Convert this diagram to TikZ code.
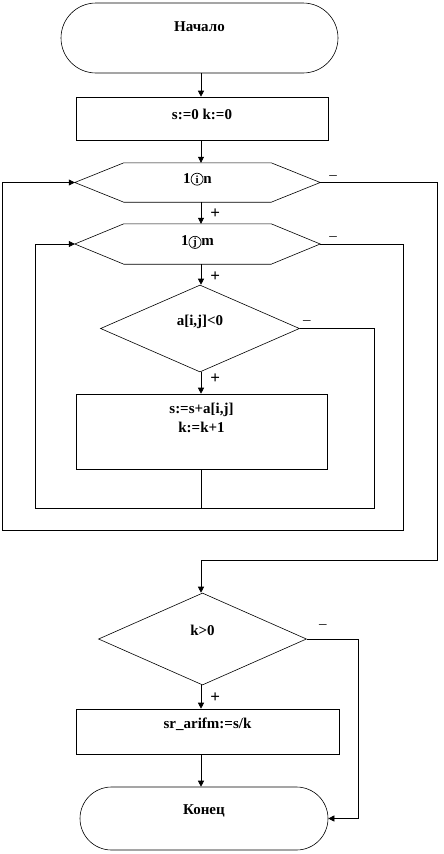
\documentclass[tikz,border=0pt]{standalone}
\usepackage{fontspec}
\setmainfont{Liberation Serif}
\usetikzlibrary{arrows.meta,shapes.geometric}
\newcommand\circlet[1]{\tikz[baseline=(cl.base)]\node[circle, draw, line width=0.7pt, inner sep=0.6pt, minimum size=12pt, font=\bfseries\fontsize{11}{12}\selectfont] (cl) {#1};}
\begin{document}
\begin{tikzpicture}[x=1pt,y=-1pt,
  shp/.style={draw, line width=0.6pt, inner sep=0pt},
  frame/.style={inner sep=0pt},
  outline/.style={line width=0.6pt},
  txt/.style={inner sep=0pt, font=\bfseries\fontsize{15}{18}\selectfont, text height=10pt, text depth=0pt},
  sgn/.style={inner sep=0pt, font=\bfseries\fontsize{17}{18}\selectfont},
  neg/.style={inner sep=0pt, font=\fontsize{15}{18}\selectfont},
  con/.style={line width=0.6pt},
  arr/.style={con, -{Triangle[length=6pt,width=6pt]}}]
\useasboundingbox (0,0) rectangle (444,854);
\fill[white] (0,0) rectangle (444,854);

% shapes
\node[shp, rounded corners=35pt, minimum width=277pt, minimum height=70pt] (start) at (199.5,38) {};
\node[txt] (tstart) at ([yshift=-24pt]start.north) {Начало};

\node[shp, minimum width=252pt, minimum height=43pt] (s1) at (202,118.5) {};
\node[txt] (ts1) at ([yshift=-18pt]s1.north) {s:=0 k:=0};

\node[frame, minimum width=245pt, minimum height=39pt] (h1) at (197.5,182.5) {};
\draw[outline] (h1.west) -- ([xshift=49pt]h1.north west) -- ([xshift=-49pt]h1.north east) -- (h1.east) -- ([xshift=-49pt]h1.south east) -- ([xshift=49pt]h1.south west) -- cycle;
\node[txt] (th1) at ([yshift=4.5pt]h1.center) {1\circlet{i}n};

\node[frame, minimum width=245pt, minimum height=40pt] (h2) at (197.5,244) {};
\draw[outline] (h2.west) -- ([xshift=49pt]h2.north west) -- ([xshift=-49pt]h2.north east) -- (h2.east) -- ([xshift=-49pt]h2.south east) -- ([xshift=49pt]h2.south west) -- cycle;
\node[txt] (th2) at ([yshift=4pt]h2.center) {1\circlet{j}m};

\node[shp, diamond, minimum width=199pt, minimum height=87pt] (d1) at (200,328.5) {};
\node[txt] (td1) at ([yshift=8.5pt]d1.center) {a[i,j]<0};

\node[shp, minimum width=251pt, minimum height=75pt] (b2) at (201.5,431.5) {};
\node[txt] (tb2a) at ([yshift=-15pt]b2.north) {s:=s+a[i,j]};
\node[txt] (tb2b) at ([yshift=-34pt]b2.north) {k:=k+1};

\node[shp, diamond, minimum width=208pt, minimum height=92pt] (d2) at (202.5,639) {};
\node[txt] (td2) at ([yshift=9pt]d2.center) {k>0};

\node[shp, minimum width=263pt, minimum height=45pt] (b3) at (207.5,731.5) {};
\node[txt] (tb3) at ([yshift=-15pt]b3.north) {sr\_arifm:=s/k};

\node[shp, rounded corners=31.5pt, minimum width=248pt, minimum height=63pt] (end) at (204,818.5) {};
\node[txt] (tend) at ([yshift=9.5pt]end.center) {Конец};

% helper coordinates
\coordinate (cx) at (201,0);
\coordinate (iL) at (35,508);
\coordinate (iR) at (374,508);
\coordinate (oL) at (2,530);
\coordinate (oR) at (403,530);
\coordinate (eR) at (437,560);
\coordinate (kR) at (358,0);

% connectors
\draw[arr] (start.south -| cx) -- (s1.north -| cx);
\draw[arr] (s1.south -| cx) -- (h1.north -| cx);
\draw[arr] (h1.south -| cx) -- (h2.north -| cx) node[sgn, pos=0.55, anchor=west, xshift=9pt] (p1) {+};
\draw[arr] (h2.south -| cx) -- (d1.north -| cx) node[sgn, pos=0.6, anchor=west, xshift=9pt] (p2) {+};
\draw[arr] (d1.south -| cx) -- (b2.north -| cx) node[sgn, pos=0.3, anchor=west, xshift=9pt] (p3) {+};

\draw[arr] (b2.south -| cx) -- (cx |- iL) -- (iL) |- (h2.west);
\draw[con] (d1.east) -| (iR) -- (cx |- iR);
\node[neg] (m3) at ([xshift=7pt, yshift=6pt]d1.east) {–};

\draw[arr] (h2.east) -| (oR) -- (oL) |- (h1.west);
\node[neg] (m2) at ([xshift=13pt, yshift=5pt]h2.east) {–};

\draw[arr] (h1.east) -| (eR) -- (cx |- eR) -- (d2.north -| cx);
\node[neg] (m1) at ([xshift=13pt, yshift=5pt]h1.east) {–};

\draw[arr] (d2.south -| cx) -- (b3.north -| cx) node[sgn, pos=0.55, anchor=west, xshift=9pt] (p4) {+};
\draw[arr] (b3.south -| cx) -- (end.north -| cx);

\draw[arr] (d2.east) -- (d2.east -| kR) -- (kR |- end.east) -- (end.east);
\node[neg] (m4) at ([xshift=16pt, yshift=12pt]d2.east) {–};
\end{tikzpicture}
\end{document}
